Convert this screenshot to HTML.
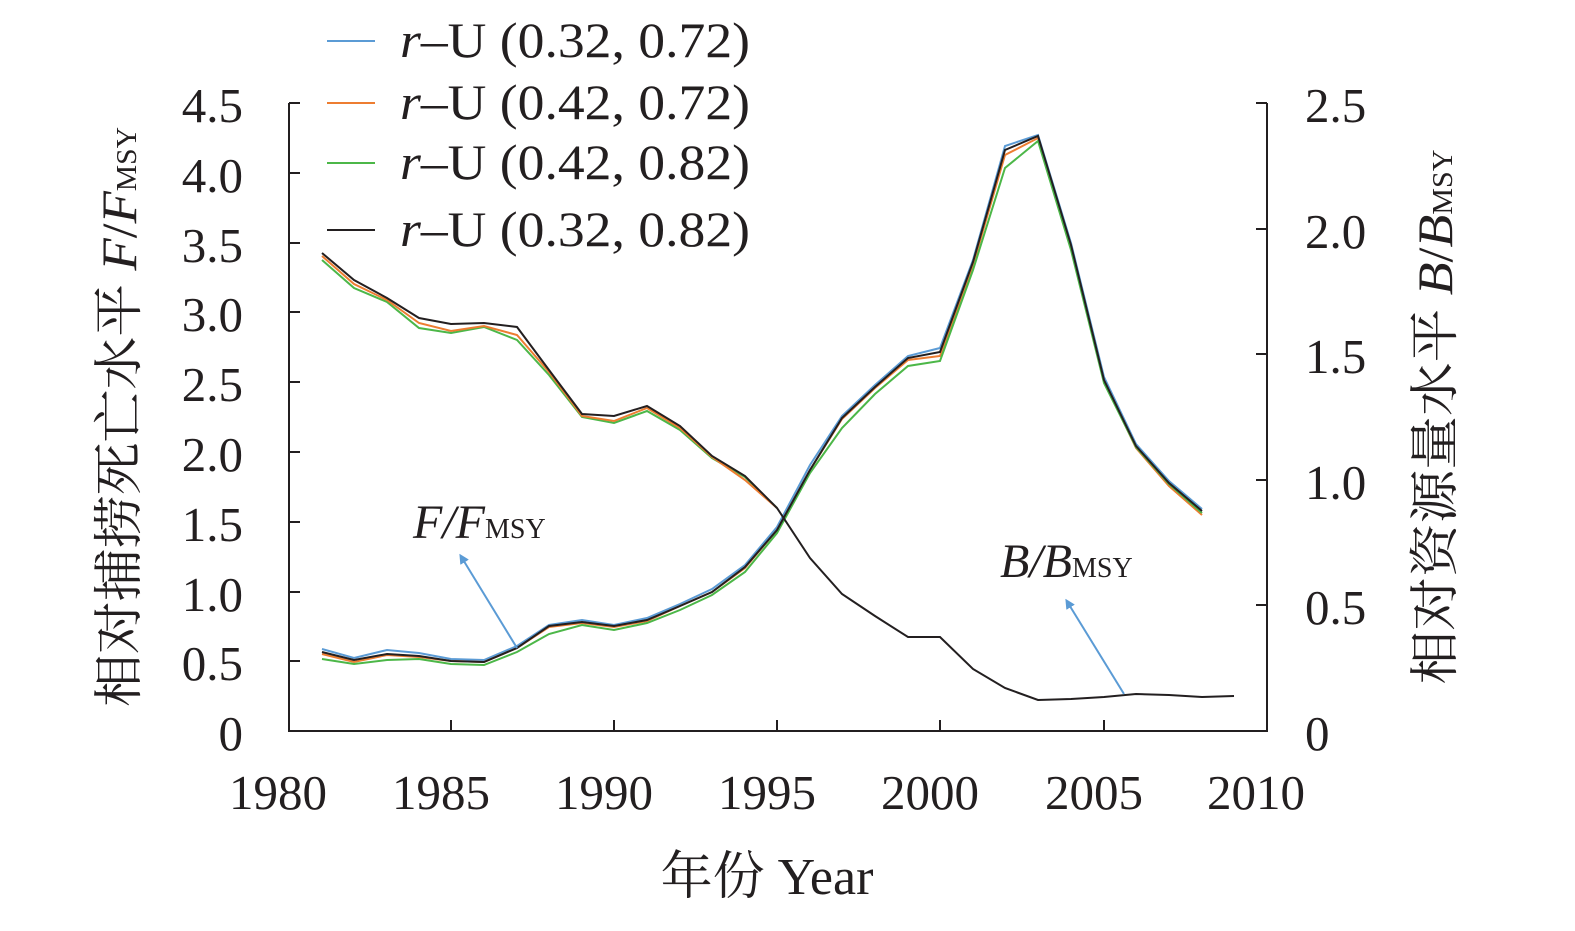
<!DOCTYPE html>
<html><head><meta charset="utf-8"><style>
html,body{margin:0;padding:0;background:#fff;}
svg text{font-family:"Liberation Serif","Noto Serif CJK SC","Noto Sans CJK SC",serif;fill:#231f20;}
</style></head><body>
<svg width="1575" height="926" xmlns="http://www.w3.org/2000/svg">
<defs><marker id="ah" markerWidth="10" markerHeight="10" refX="5" refY="5" orient="auto" markerUnits="userSpaceOnUse"><path d="M0,0 L10,5 L0,10 z" fill="#5b9bd5"/></marker></defs>
<g stroke="#231f20" stroke-width="2" fill="none">
<path d="M289,103 V731 H1267 V103"/>
<path d="M289,103h11M289,173h11M289,243h11M289,312h11M289,382h11M289,452h11M289,522h11M289,592h11M289,661h11"/>
<path d="M1267,103h-11M1267,229h-11M1267,354h-11M1267,480h-11M1267,605h-11"/>
<path d="M451,731v-11M614,731v-11M777,731v-11M940,731v-11M1104,731v-11"/>
</g>
<g font-size="49" text-anchor="end">
<text x="243" y="122">4.5</text><text x="243" y="192">4.0</text><text x="243" y="262">3.5</text><text x="243" y="331">3.0</text><text x="243" y="401">2.5</text><text x="243" y="471">2.0</text><text x="243" y="541">1.5</text><text x="243" y="611">1.0</text><text x="243" y="680">0.5</text><text x="243" y="750">0</text>
</g>
<g font-size="49">
<text x="1305" y="122">2.5</text><text x="1305" y="248">2.0</text><text x="1305" y="373">1.5</text><text x="1305" y="499">1.0</text><text x="1305" y="624">0.5</text><text x="1305" y="750">0</text>
</g>
<g font-size="49" text-anchor="middle">
<text x="278" y="809">1980</text><text x="441" y="809">1985</text><text x="604" y="809">1990</text><text x="767" y="809">1995</text><text x="930" y="809">2000</text><text x="1094" y="809">2005</text><text x="1256" y="809">2010</text>
<text x="767" y="894" font-size="52">年份 Year</text>
</g>
<text transform="translate(136,417) rotate(-90)" font-size="50" text-anchor="middle" textLength="580" lengthAdjust="spacingAndGlyphs">相对捕捞死亡水平 <tspan font-style="italic">F</tspan>/<tspan font-style="italic">F</tspan><tspan font-size="28">MSY</tspan></text>
<text transform="translate(1452,417) rotate(-90)" font-size="50" text-anchor="middle" textLength="535" lengthAdjust="spacingAndGlyphs">相对资源量水平 <tspan font-style="italic">B</tspan>/<tspan font-style="italic">B</tspan><tspan font-size="28">MSY</tspan></text>
<text x="413" y="538" font-size="48" font-style="italic">F/F<tspan font-style="normal" font-size="28">MSY</tspan></text>
<text x="1000" y="577" font-size="48" font-style="italic">B/B<tspan font-style="normal" font-size="28">MSY</tspan></text>
<g stroke-width="2" fill="none">
<polyline stroke="#5b9bd5" points="322,649 354,658 387,650 419,653 451,659 484,660 517,646 549,625 582,620 614,625 647,618 680,604 712,589 745,565 777,527 810,465 842,416 875,385 908,356 940,348 973,260 1005,146 1038,135 1071,243 1104,377 1136,444 1169,481 1202,509"/>
<polyline stroke="#ed7d31" points="322,654 354,662 387,655 419,657 451,661 484,662 517,648 549,627 582,623 614,627 647,621 680,606 712,592 745,568 777,530 810,470 842,419 875,388 908,360 940,356 973,265 1005,155 1038,138 1071,246 1104,381 1136,448 1169,486 1202,515"/>
<polyline stroke="#4cb748" points="322,659 354,664 387,660 419,659 451,664 484,665 517,652 549,634 582,625 614,630 647,623 680,610 712,595 745,572 777,533 810,473 842,428 875,394 908,366 940,361 973,270 1005,168 1038,141 1071,250 1104,383 1136,447 1169,484 1202,513"/>
<polyline stroke="#231f20" points="322,652 354,660 387,654 419,656 451,661 484,662 517,648 549,626 582,622 614,626 647,620 680,606 712,592 745,567 777,530 810,470 842,418 875,387 908,358 940,352 973,262 1005,150 1038,136 1071,245 1104,380 1136,446 1169,483 1202,511"/>
<polyline stroke="#4cb748" points="322,260 354,288 387,302 419,328 451,333 484,327 517,340 549,375 582,417 614,423 647,411 680,430 712,458 745,477 777,508"/>
<polyline stroke="#ed7d31" points="322,256 354,284 387,300 419,323 451,331 484,326 517,335 549,372 582,416 614,421 647,408 680,428 712,457 745,480 777,508"/>
<polyline stroke="#231f20" points="322,253 354,280 387,298 419,318 451,324 484,323 517,327 549,370 582,414 614,416 647,406 680,426 712,456 745,476 777,508 810,558 842,594 875,616 908,637 940,637 973,669 1005,688 1038,700 1071,699 1104,697 1136,694 1169,695 1202,697 1234,696"/>
<line x1="517" y1="648" x2="462" y2="558" stroke="#5b9bd5" marker-end="url(#ah)"/>
<line x1="1124" y1="694" x2="1068" y2="603" stroke="#5b9bd5" marker-end="url(#ah)"/>
<line x1="327" y1="41" x2="375" y2="41" stroke="#5b9bd5"/>
<line x1="327" y1="103" x2="375" y2="103" stroke="#ed7d31"/>
<line x1="327" y1="163" x2="375" y2="163" stroke="#4cb748"/>
<line x1="327" y1="230" x2="375" y2="230" stroke="#231f20"/>
</g>
<g font-size="50">
<text x="400" y="57" textLength="350" lengthAdjust="spacingAndGlyphs"><tspan font-style="italic">r</tspan>–U (0.32, 0.72)</text>
<text x="400" y="119" textLength="350" lengthAdjust="spacingAndGlyphs"><tspan font-style="italic">r</tspan>–U (0.42, 0.72)</text>
<text x="400" y="179" textLength="350" lengthAdjust="spacingAndGlyphs"><tspan font-style="italic">r</tspan>–U (0.42, 0.82)</text>
<text x="400" y="246" textLength="350" lengthAdjust="spacingAndGlyphs"><tspan font-style="italic">r</tspan>–U (0.32, 0.82)</text>
</g>
</svg>
</body></html>
